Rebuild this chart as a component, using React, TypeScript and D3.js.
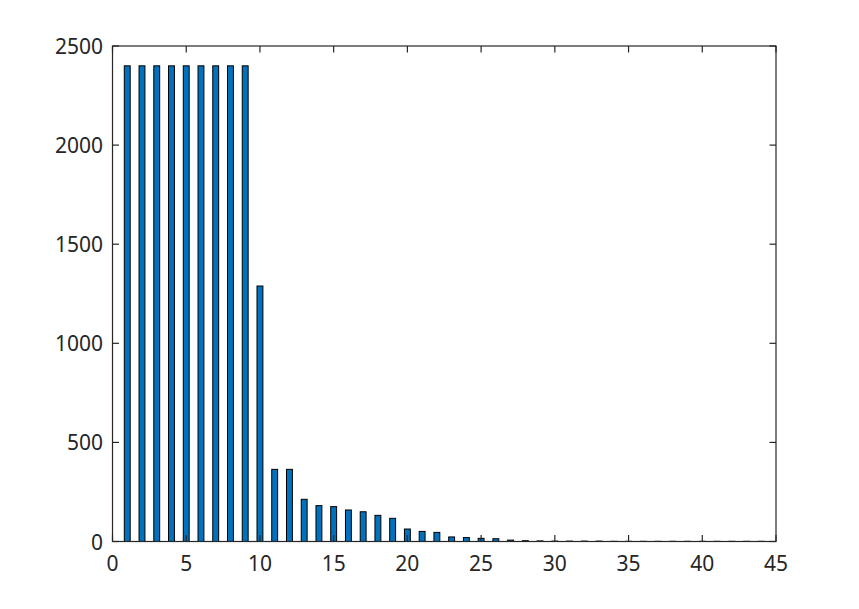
import React from "react";
import * as d3 from "d3";

const categories: number[] = Array.from({ length: 44 }, (_, i) => i + 1);
const counts: number[] = [
  2400, 2400, 2400, 2400, 2400, 2400, 2400, 2400, 2400, 1289,
  364, 364, 213, 181, 176, 159, 150, 132, 117, 63,
  51, 46, 23, 20, 16, 14, 7, 4, 3, 2,
  2, 2, 2, 1, 1, 1, 1, 1, 1, 1,
  1, 1, 1, 1,
];
const xTicks: number[] = [0, 5, 10, 15, 20, 25, 30, 35, 40, 45];
const yTicks: number[] = [0, 500, 1000, 1500, 2000, 2500];

const W = 859;
const H = 609;
const M = { left: 112.5, right: 776, top: 46, bottom: 541.5 };
const AX = "#262626";
const FONT = "'Noto Sans', sans-serif";

export default function App() {
  const x = d3.scaleLinear().domain([0, 45]).range([M.left, M.right]);
  const y = d3.scaleLinear().domain([0, 2500]).range([M.bottom, M.top]);
  const bw = x(0.4) - x(0);
  const tl = 6.5;
  return (
    <svg width={W} height={H} style={{ position: "absolute", left: 0, top: 0, background: "#fff" }}>
      <rect x={0} y={0} width={W} height={H} fill="#fff" />
      {categories.map((c, i) => (
        <rect
          key={c}
          x={x(c) - bw / 2}
          y={y(counts[i])}
          width={bw}
          height={y(0) - y(counts[i])}
          fill="#0072BD"
          stroke="#000"
          strokeWidth={1}
        />
      ))}
      <rect x={M.left} y={M.top} width={M.right - M.left} height={M.bottom - M.top} fill="none" stroke={AX} strokeWidth={1.2} />
      {xTicks.map((t) => (
        <g key={"x" + t}>
          <line x1={x(t)} x2={x(t)} y1={M.bottom} y2={M.bottom - tl} stroke={AX} strokeWidth={1.2} />
          <line x1={x(t)} x2={x(t)} y1={M.top} y2={M.top + tl} stroke={AX} strokeWidth={1.2} />
          <text x={x(t)} y={563} textAnchor="middle" dominantBaseline="central" fontFamily={FONT} fontSize={21} fill={AX}>
            {t}
          </text>
        </g>
      ))}
      {yTicks.map((t) => (
        <g key={"y" + t}>
          <line x1={M.left} x2={M.left + tl} y1={y(t)} y2={y(t)} stroke={AX} strokeWidth={1.2} />
          <line x1={M.right} x2={M.right - tl} y1={y(t)} y2={y(t)} stroke={AX} strokeWidth={1.2} />
          <text x={103} y={y(t)} textAnchor="end" dominantBaseline="central" fontFamily={FONT} fontSize={21} fill={AX}>
            {t}
          </text>
        </g>
      ))}
    </svg>
  );
}
